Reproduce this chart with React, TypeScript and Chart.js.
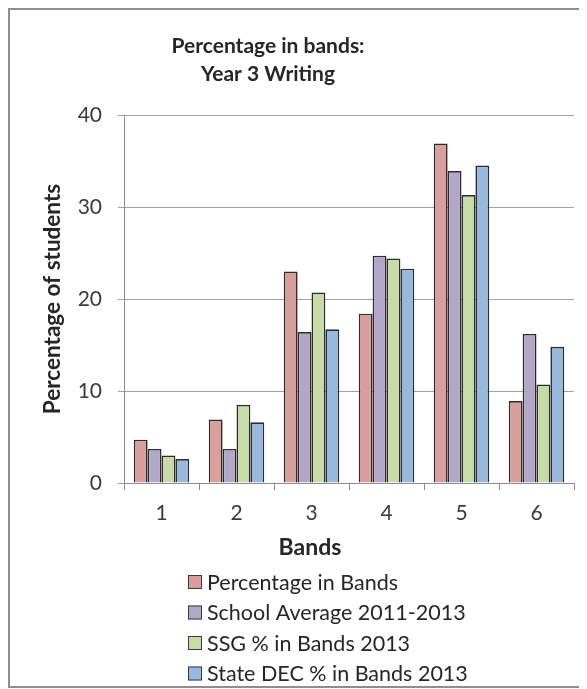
import React, { useEffect, useRef } from "react";
import { Chart, registerables } from "chart.js";

Chart.register(...registerables);

// Writing results by band, percentages of students
const bands = ["1", "2", "3", "4", "5", "6"];
const percentageInBands = [4.7, 6.9, 23.0, 18.4, 36.9, 8.9];
const schoolAverage = [3.7, 3.7, 16.4, 24.7, 33.9, 16.2];
const ssgInBands = [3.0, 8.5, 20.7, 24.4, 31.3, 10.7];
const stateDecInBands = [2.6, 6.6, 16.7, 23.3, 34.5, 14.8];

const seriesLabels = [
  "Percentage in Bands",
  "School Average 2011-2013",
  "SSG % in Bands 2013",
  "State DEC % in Bands 2013",
];
const seriesColors = ["#D99F9D", "#B3A7C9", "#C7DBA6", "#98B8DE"];
const titleLines = ["Percentage in bands:", "Year 3 Writing"];
const xAxisTitle = "Bands";
const yAxisTitle = "Percentage of students";
const yMin = 0;
const yMax = 40;
const yStep = 10;

const FONT = "Lato, 'Open Sans', sans-serif";
const TEXT = "#262626";
const TICK_TEXT = "#3a3a3a";

// Title, x-axis caption and a stacked legend drawn on the canvas
const decorPlugin = {
  id: "decor",
  afterDraw(chart: any) {
    const { ctx, chartArea } = chart;
    ctx.save();
    ctx.fillStyle = TEXT;
    ctx.textAlign = "center";
    ctx.textBaseline = "middle";

    ctx.font = `bold 21px ${FONT}`;
    const titleX = chartArea.left + 144;
    titleLines.forEach((line, i) => {
      ctx.fillText(line, titleX, 36 + i * 28);
    });

    ctx.font = `bold 23px ${FONT}`;
    ctx.fillText(xAxisTitle, chartArea.left + 186, chartArea.bottom + 65);

    ctx.font = `21.5px ${FONT}`;
    ctx.textAlign = "left";
    const lx = chartArea.left + 64;
    const ly0 = chartArea.bottom + 99;
    chart.data.datasets.forEach((ds: any, i: number) => {
      const y = ly0 + i * 30.5;
      ctx.fillStyle = ds.backgroundColor;
      ctx.fillRect(lx, y - 7, 14, 14);
      ctx.strokeStyle = "#3a3a3a";
      ctx.lineWidth = 1;
      ctx.strokeRect(lx + 0.5, y - 6.5, 13, 13);
      ctx.fillStyle = TEXT;
      ctx.fillText(ds.label, lx + 19, y + 1);
    });
    ctx.restore();
  },
};

export default function App() {
  const canvasRef = useRef<HTMLCanvasElement | null>(null);

  useEffect(() => {
    if (!canvasRef.current) return;
    const seriesData = [percentageInBands, schoolAverage, ssgInBands, stateDecInBands];
    const chart = new Chart(canvasRef.current, {
      type: "bar",
      data: {
        labels: bands,
        datasets: seriesData.map((values, i) => ({
          label: seriesLabels[i],
          data: values,
          backgroundColor: seriesColors[i],
          borderColor: "#2d2d2d",
          borderWidth: 1.6,
          categoryPercentage: 0.74,
          barPercentage: 1.0,
        })),
      },
      options: {
        animation: false,
        responsive: true,
        maintainAspectRatio: false,
        layout: { padding: { left: 0, top: 105, right: 10, bottom: 143 } },
        plugins: {
          legend: { display: false },
          tooltip: { enabled: false },
          title: { display: false },
        },
        scales: {
          x: {
            offset: true,
            grid: {
              offset: true,
              drawOnChartArea: false,
              drawTicks: true,
              tickLength: 7,
              color: "#8c8c8c",
            },
            border: { color: "#8c8c8c", width: 1 },
            ticks: {
              color: TICK_TEXT,
              font: { family: FONT, size: 21 },
              padding: 11,
            },
            afterFit: (s: any) => {
              s.height = 60;
            },
          },
          y: {
            min: yMin,
            max: yMax,
            ticks: {
              stepSize: yStep,
              color: TICK_TEXT,
              font: { family: FONT, size: 21 },
              padding: 16,
            },
            grid: { color: "#a0a0a0", tickLength: 6, lineWidth: 1 },
            border: { color: "#8c8c8c", width: 1 },
            title: {
              display: true,
              text: yAxisTitle,
              color: TEXT,
              font: { family: FONT, size: 22.5, weight: "bold" },
              padding: { top: 29, bottom: 0 },
            },
            afterFit: (s: any) => {
              s.width = 114;
            },
          },
        },
      },
      plugins: [decorPlugin],
    });
    return () => chart.destroy();
  }, []);

  return (
    <div
      style={{
        width: 574,
        height: 676,
        border: "2px solid #8e8e8e",
        background: "#ffffff",
        position: "relative",
      }}
    >
      <canvas ref={canvasRef} />
    </div>
  );
}
